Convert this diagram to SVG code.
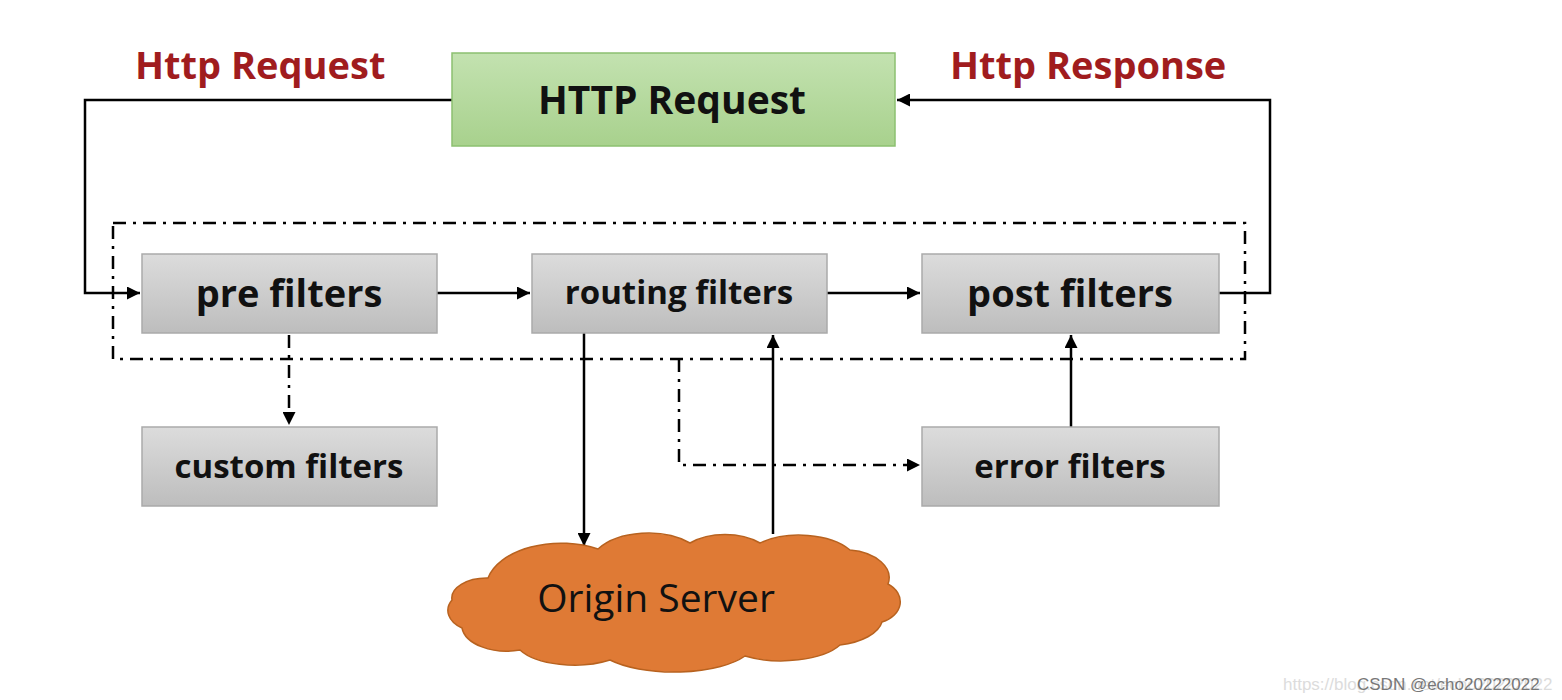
<svg xmlns="http://www.w3.org/2000/svg" width="1562" height="700" viewBox="0 0 1562 700">
<defs>
<linearGradient id="gGray" x1="0" y1="0" x2="0" y2="1"><stop offset="0" stop-color="#dcdcdc"/><stop offset="1" stop-color="#bdbdbd"/></linearGradient>
<linearGradient id="gGreen" x1="0" y1="0" x2="0" y2="1"><stop offset="0" stop-color="#c3e2b0"/><stop offset="1" stop-color="#a8d18d"/></linearGradient>
<marker id="arrB" viewBox="0 0 10 10" refX="10" refY="5" markerWidth="13" markerHeight="13" markerUnits="userSpaceOnUse" orient="auto"><path d="M0,0 L10,5 L0,10 Z" fill="#000"/></marker>
</defs>
<style>
.box{fill:url(#gGray);stroke:#aaaaaa;stroke-width:1.5}
.lbl{font-family:"Open Sans","Noto Sans",sans-serif;font-weight:bold;fill:#111;text-anchor:middle}
.red{font-family:"Open Sans","Noto Sans",sans-serif;font-weight:bold;fill:#a01c1e;font-size:38px}
.os{font-family:"Open Sans","Noto Sans",sans-serif;font-size:39px;fill:#111;text-anchor:middle}
.ln{fill:none;stroke:#000;stroke-width:2.5}
.dd{fill:none;stroke:#000;stroke-width:2.5;stroke-dasharray:13 7 3 7}
.wm{font-family:"Liberation Sans",sans-serif;font-size:17px}
</style>
<rect width="1562" height="700" fill="#fff"/>
<text class="red" x="135" y="79">Http Request</text>
<text class="red" x="950" y="79">Http Response</text>
<g id="connectors">
<rect class="dd" x="113" y="223" width="1132" height="136"/>
<path class="ln" d="M452,100 H85 V293 H140" marker-end="url(#arrB)"/>
<path class="ln" d="M1219,293 H1270 V100 H897" marker-end="url(#arrB)"/>
<path class="ln" d="M437,293 H530" marker-end="url(#arrB)"/>
<path class="ln" d="M827,293 H920" marker-end="url(#arrB)"/>
<path class="dd" d="M289,335 V425" marker-end="url(#arrB)"/>
<path class="ln" d="M584,333 V546" marker-end="url(#arrB)"/>
<path class="ln" d="M773,534 V335" marker-end="url(#arrB)"/>
<path class="dd" d="M679,359 V465 H920" marker-end="url(#arrB)"/>
<path class="ln" d="M1071,427 V335" marker-end="url(#arrB)"/>
</g>
<g id="http-request"><rect x="452" y="53" width="443" height="93" fill="url(#gGreen)" stroke="#8cc070" stroke-width="1.5"/><text class="lbl" x="672" y="114" font-size="39">HTTP Request</text></g>
<g id="pre-filters"><rect class="box" x="142" y="254" width="295" height="79"/><text class="lbl" x="289" y="307" font-size="38">pre filters</text></g>
<g id="routing-filters"><rect class="box" x="532" y="254" width="295" height="79"/><text class="lbl" x="679" y="304" font-size="33">routing filters</text></g>
<g id="post-filters"><rect class="box" x="922" y="254" width="297" height="79"/><text class="lbl" x="1070" y="307" font-size="38">post filters</text></g>
<g id="custom-filters"><rect class="box" x="142" y="427" width="295" height="79"/><text class="lbl" x="289" y="478" font-size="33">custom filters</text></g>
<g id="error-filters"><rect class="box" x="922" y="427" width="297" height="79"/><text class="lbl" x="1070" y="478" font-size="33">error filters</text></g>
<g id="origin-server">
<path d="M488,578 A75,45 0 0 1 598,549 A60,35 0 0 1 690,543 A50,30 0 0 1 760,543 A60,32 0 0 1 850,550 A45,28 0 0 1 888,584 A30,22 0 0 1 882,622 A55,28 0 0 1 840,645 A65,28 0 0 1 745,656 A80,30 0 0 1 610,660 A60,26 0 0 1 520,650 A45,26 0 0 1 462,628 A35,22 0 0 1 452,600 A35,20 0 0 1 488,578 Z" fill="#df7a35" stroke="#b8621f" stroke-width="1.5"/>
<text class="os" x="656" y="612">Origin Server</text>
</g>
<text class="wm" x="1283" y="690" fill="#dcdcdc">https://blog.csdn.net/echo20222022</text>
<text class="wm" x="1357" y="690" fill="#777">CSDN @echo20222022</text>
</svg>
